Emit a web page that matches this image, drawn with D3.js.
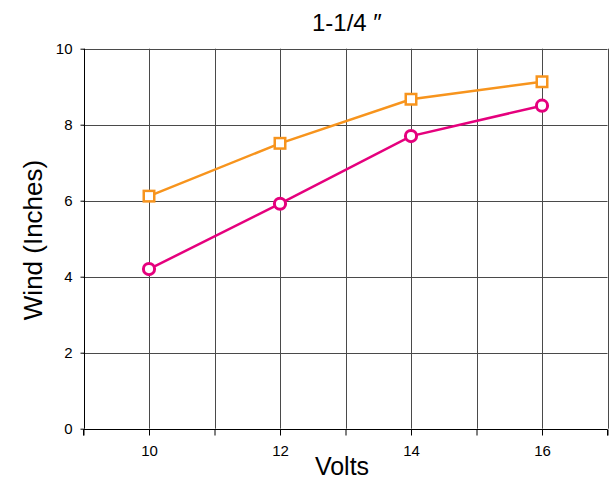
<!DOCTYPE html>
<html><head><meta charset="utf-8">
<script src="https://cdn.jsdelivr.net/npm/d3@7"></script>
<style>body{margin:0;background:#fff}svg{display:block;font-family:"Liberation Sans",Arial,Helvetica,sans-serif}</style>
</head><body>
<svg id="c" width="613" height="481"></svg>
<script>
const volts = [10, 12, 14, 16];
const seriesSquare = [6.12, 7.51, 8.67, 9.13];
const seriesCircle = [4.20, 5.92, 7.70, 8.50];
const xTicks = [10, 12, 14, 16];
const yTicks = [0, 2, 4, 6, 8, 10];
const title = "1-1/4 \u2033";

const svg = d3.select("#c");
const m = {l: 83.5, r: 607.5, t: 48.7, b: 428.7};
const x = d3.scaleLinear().domain([9, 17]).range([m.l, m.r]);
const y = d3.scaleLinear().domain([0, 10]).range([m.b, m.t]);

// grid
const g = svg.append("g");
g.selectAll("line.v").data(d3.range(10, 18)).join("line")
  .attr("x1", d => Math.round(x(d)) + 0.5).attr("x2", d => Math.round(x(d)) + 0.5)
  .attr("y1", m.t).attr("y2", m.b).attr("stroke", "#4a4a4a").attr("stroke-width", 1);
g.selectAll("line.h").data(yTicks.filter(d => d > 0)).join("line")
  .attr("x1", m.l).attr("x2", m.r)
  .attr("y1", d => Math.round(y(d)) + 0.5).attr("y2", d => Math.round(y(d)) + 0.5)
  .attr("stroke", "#4a4a4a").attr("stroke-width", 1);

// axes
const xAxis = d3.axisBottom(x).tickValues(d3.range(9, 18)).tickSize(6)
  .tickFormat(d => xTicks.includes(d) ? d : "");
const gx = svg.append("g").attr("transform", `translate(0,${Math.round(m.b)+0.5})`).call(xAxis);
gx.select(".domain").attr("d", `M${m.l},6V0H${m.r}V6`).attr("stroke", "#000");
gx.selectAll(".tick line").attr("stroke", "#000");
gx.selectAll(".tick text").attr("font-size", 15).attr("y", 26).attr("dy", 0).attr("fill", "#000");

const yAxis = d3.axisLeft(y).tickValues(yTicks).tickSize(4).tickFormat(d3.format("d"));
const gy = svg.append("g").attr("transform", `translate(${Math.round(m.l)+0.5},0)`).call(yAxis);
gy.select(".domain").attr("d", `M0,${m.t}V${m.b}`).attr("stroke", "#000");
gy.selectAll(".tick line").attr("stroke", "#000");
gy.selectAll(".tick text").attr("font-size", 15).attr("x", -12).attr("fill", "#000");

// lines
const line = d3.line().x((d, i) => x(volts[i])).y(d => y(d));
const orange = "#F7941D", pink = "#E5007D";
svg.append("path").datum(seriesSquare).attr("d", line).attr("fill", "none").attr("stroke", orange).attr("stroke-width", 2.5);
svg.append("path").datum(seriesCircle).attr("d", line).attr("fill", "none").attr("stroke", pink).attr("stroke-width", 2.5);

svg.selectAll("rect.sq").data(seriesSquare).join("rect")
  .attr("x", (d, i) => x(volts[i]) - 5.25).attr("y", d => y(d) - 5.25)
  .attr("width", 10.5).attr("height", 10.5)
  .attr("fill", "#fff").attr("stroke", orange).attr("stroke-width", 2.5);
svg.selectAll("circle.ci").data(seriesCircle).join("circle")
  .attr("cx", (d, i) => x(volts[i])).attr("cy", d => y(d)).attr("r", 5.6)
  .attr("fill", "#fff").attr("stroke", pink).attr("stroke-width", 3);

// labels
svg.append("text").attr("x", 312).attr("y", 31).attr("text-anchor", "start")
  .attr("font-size", 24).text(title);
svg.append("text").attr("x", 342).attr("y", 475).attr("text-anchor", "middle")
  .attr("font-size", 25).text("Volts");
svg.append("text").attr("transform", `translate(42,240) rotate(-90)`)
  .attr("text-anchor", "middle").attr("font-size", 26).text("Wind (Inches)");
</script>
</body></html>
